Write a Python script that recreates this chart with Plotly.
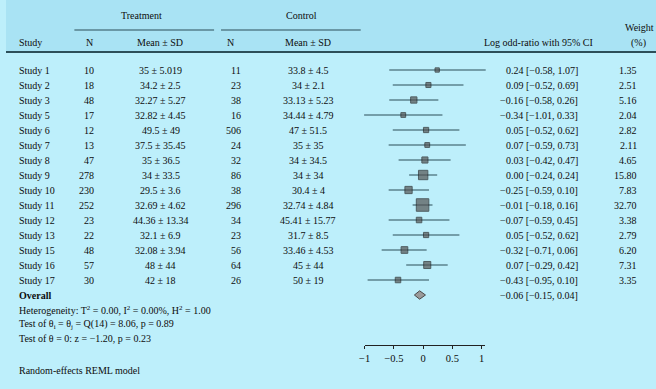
import plotly.graph_objects as go

W, H = 656, 389

studies = ["Study 1", "Study 2", "Study 3", "Study 5", "Study 6", "Study 7", "Study 8", "Study 9",
           "Study 10", "Study 11", "Study 12", "Study 13", "Study 15", "Study 16", "Study 17"]
treat_n = [10, 18, 48, 17, 12, 13, 47, 278, 230, 252, 23, 22, 48, 57, 30]
treat_msd = ["35 ± 5.019", "34.2 ± 2.5", "32.27 ± 5.27", "32.82 ± 4.45", "49.5 ± 49", "37.5 ± 35.45",
             "35 ± 36.5", "34 ± 33.5", "29.5 ± 3.6", "32.69 ± 4.62", "44.36 ± 13.34", "32.1 ± 6.9",
             "32.08 ± 3.94", "48 ± 44", "42 ± 18"]
ctrl_n = [11, 23, 38, 16, 506, 24, 32, 86, 38, 296, 34, 23, 56, 64, 26]
ctrl_msd = ["33.8 ± 4.5", "34 ± 2.1", "33.13 ± 5.23", "34.44 ± 4.79", "47 ± 51.5", "35 ± 35",
            "34 ± 34.5", "34 ± 34", "30.4 ± 4", "32.74 ± 4.84", "45.41 ± 15.77", "31.7 ± 8.5",
            "33.46 ± 4.53", "45 ± 44", "50 ± 19"]
est = [0.24, 0.09, -0.16, -0.34, 0.05, 0.07, 0.03, 0.00, -0.25, -0.01, -0.07, 0.05, -0.32, 0.07, -0.43]
lo = [-0.58, -0.52, -0.58, -1.01, -0.52, -0.59, -0.42, -0.24, -0.59, -0.18, -0.59, -0.52, -0.71, -0.29, -0.95]
hi = [1.07, 0.69, 0.26, 0.33, 0.62, 0.73, 0.47, 0.24, 0.10, 0.16, 0.45, 0.62, 0.06, 0.42, 0.10]
weight = [1.35, 2.51, 5.16, 2.04, 2.82, 2.11, 4.65, 15.80, 7.83, 32.70, 3.38, 2.79, 6.20, 7.31, 3.35]
overall = (-0.06, -0.15, 0.04)
axis_ticks = [-1, -0.5, 0, 0.5, 1]
axis_ticktext = ["−1", "−0.5", "0", "0.5", "1"]
footer_lines = ["Heterogeneity: T<sup>2</sup> = 0.00, I<sup>2</sup> = 0.00%, H<sup>2</sup> = 1.00",
                "Test of θ<sub>i</sub> = θ<sub>j</sub> = Q(14) = 8.06, p = 0.89",
                "Test of θ = 0: z = −1.20, p = 0.23"]
model_note = "Random-effects REML model"

FONT = "Liberation Serif"
FS = 10
TXT = "#0d0d0d"
BODY = "#bdeffb"
HEAD = "#a9e3f4"
LINE = "#2d4f59"

def px(x):
    return x / W

def py(y):
    return 1 - y / H

def fmt(v):
    return f"{v:.2f}".replace("-", "−")

ROW0, STEP = 70, 15
n = len(studies)
rows = list(range(n))
ov_row = n

fig = go.Figure()

# CI lines
cx, cy = [], []
for i in rows:
    cx += [lo[i], hi[i], None]
    cy += [i, i, None]
fig.add_trace(go.Scatter(x=cx, y=cy, mode="lines", line=dict(color=LINE, width=1.2),
                         hoverinfo="skip", showlegend=False))
# squares
fig.add_trace(go.Scatter(x=est, y=rows, mode="markers",
                         marker=dict(symbol="square", color="#545454",
                                     size=[2.2 + 1.8 * w ** 0.5 for w in weight],
                                     line=dict(color="#222", width=1)),
                         showlegend=False, hoverinfo="skip"))
# diamond
e, l, h = overall
dh = 0.28
fig.add_trace(go.Scatter(x=[l, e, h, e, l], y=[ov_row, ov_row - dh, ov_row, ov_row + dh, ov_row],
                         mode="lines", fill="toself", fillcolor="#9a9a9a",
                         line=dict(color="#4a4a4a", width=1), showlegend=False, hoverinfo="skip"))
# invisible trace for the displayed axis
fig.add_trace(go.Scatter(x=[axis_ticks[0], axis_ticks[-1]], y=[ov_row, ov_row], xaxis="x2",
                         mode="markers", marker=dict(opacity=0), showlegend=False, hoverinfo="skip"))

ppu = 59.0
x0 = 421.0
r = 1.6
y_top = -ROW0 / STEP
y_bot = (H - ROW0) / STEP

fig.update_layout(
    width=W, height=H, margin=dict(l=0, r=0, t=0, b=0),
    paper_bgcolor=BODY, plot_bgcolor="rgba(0,0,0,0)",
    font=dict(family=FONT, size=FS, color=TXT),
    xaxis=dict(range=[-r, r], domain=[px(x0 - r * ppu), px(x0 + r * ppu)], visible=False, fixedrange=True),
    xaxis2=dict(range=[-1, 1.05], domain=[px(x0 - 1 * ppu), px(x0 + 1.05 * ppu)], anchor="free",
                position=py(345), showline=True, linecolor="#222", linewidth=1,
                ticks="outside", ticklen=3, tickcolor="#222", tickvals=axis_ticks,
                ticktext=axis_ticktext, showgrid=False, zeroline=False,
                tickfont=dict(family=FONT, size=FS + 0.5, color=TXT), fixedrange=True),
    yaxis=dict(range=[y_bot, y_top], domain=[0, 1], visible=False, fixedrange=True),
)

shapes = [
    dict(type="rect", xref="paper", yref="paper", x0=0, x1=1, y0=py(52), y1=1,
         fillcolor=HEAD, line=dict(width=0), layer="below"),
    dict(type="line", xref="paper", yref="paper", x0=px(69), x1=px(210), y0=py(30), y1=py(30),
         line=dict(color=LINE, width=1.2)),
    dict(type="line", xref="paper", yref="paper", x0=px(217), x1=px(358), y0=py(30), y1=py(30),
         line=dict(color=LINE, width=1.2)),
    dict(type="line", xref="paper", yref="paper", x0=0, x1=1, y0=py(52), y1=py(52),
         line=dict(color=LINE, width=1.8)),
]
fig.update_layout(shapes=shapes)

ann = []

def add(text, x, y, anchor="left", yref="paper", bold=False):
    ann.append(dict(text=f"<b>{text}</b>" if bold else text, x=px(x), y=y, xref="paper", yref=yref,
                    xanchor=anchor, yanchor="middle", showarrow=False,
                    font=dict(family=FONT, size=FS, color=TXT)))

# headers
add("Treatment", 137, py(15), "center")
add("Control", 298, py(15), "center")
add("Study", 11, py(43))
add("N", 84, py(43), "center")
add("Mean ± SD", 155, py(43), "center")
add("N", 227, py(43), "center")
add("Mean ± SD", 305, py(43), "center")
add("Log odd-ratio with 95% CI", 537, py(43), "center")
add("Weight", 639, py(27), "center")
add("(%)", 638, py(43), "center")

for i in rows:
    add(studies[i], 11, i, "left", "y")
    add(str(treat_n[i]), 91, i, "right", "y")
    add(treat_msd[i], 156, i, "center", "y")
    add(str(ctrl_n[i]), 239, i, "right", "y")
    add(ctrl_msd[i], 305, i, "center", "y")
    add(f"{fmt(est[i])} [{fmt(lo[i])}, {fmt(hi[i])}]", 579, i, "right", "y")
    add(f"{weight[i]:.2f}", 639, i, "right", "y")

add("Overall", 11, ov_row, "left", "y", bold=True)
add(f"{fmt(overall[0])} [{fmt(overall[1])}, {fmt(overall[2])}]", 579, ov_row, "right", "y")
for k, t in enumerate(footer_lines):
    add(t, 11, py(310 + 14 * k))
add(model_note, 11, py(370))

fig.update_layout(annotations=ann)
fig.write_html("out.html", config={"displayModeBar": False},
               post_script="document.body.style.margin='0';document.body.style.padding='0';"
                           "document.body.style.overflow='hidden';")
